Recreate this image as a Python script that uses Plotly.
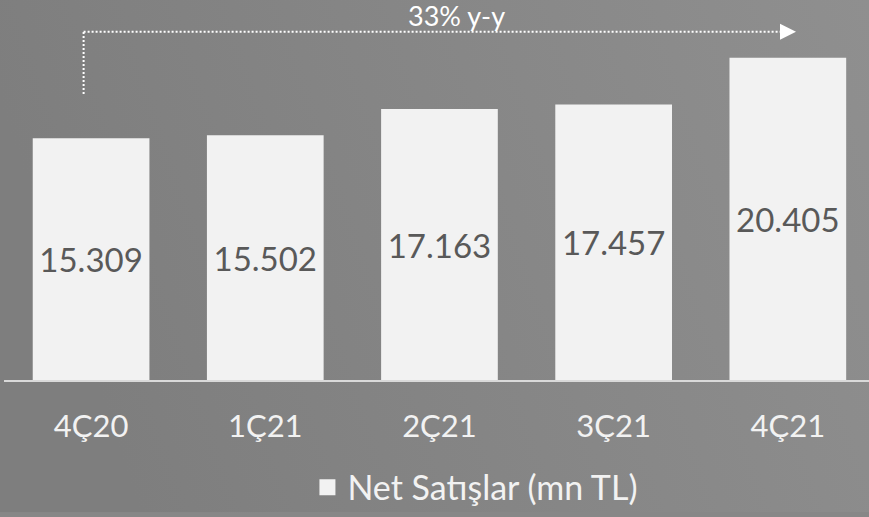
import base64
import plotly.graph_objects as go

categories = ["4Ç20", "1Ç21", "2Ç21", "3Ç21", "4Ç21"]
net_sales = [15309, 15502, 17163, 17457, 20405]
value_labels = ["15.309", "15.502", "17.163", "17.457", "20.405"]
series_name = "Net Satışlar (mn TL)"
growth_label = "33% y-y"

FONT = "Lato"
BAR = "#f2f2f2"

# soft grey background gradient (dark left -> lighter right)
svg = (
    '<svg xmlns="http://www.w3.org/2000/svg" width="869" height="517" preserveAspectRatio="none">'
    '<defs><linearGradient id="g" x1="0" y1="0.2" x2="1" y2="0">'
    '<stop offset="0" stop-color="#7e7e7e"/><stop offset="1" stop-color="#8f8f8f"/>'
    '</linearGradient></defs><rect width="869" height="517" fill="url(#g)"/></svg>'
)
bg_src = "data:image/svg+xml;base64," + base64.b64encode(svg.encode()).decode()

x_idx = list(range(len(categories)))

fig = go.Figure()
fig.add_trace(go.Bar(
    x=x_idx,
    y=net_sales,
    name=series_name,
    legendgroup="ns",
    text=value_labels,
    textposition="inside",
    insidetextanchor="middle",
    textfont=dict(family=FONT, size=33, color="#595959"),
    marker=dict(color=BAR, line=dict(width=0)),
    width=0.67,
    showlegend=False,
))
# legend entry (larger square symbol) tied to the bar series
fig.add_trace(go.Scatter(
    x=[None], y=[None], mode="markers", name=series_name, legendgroup="ns",
    marker=dict(symbol="square", size=16, color=BAR), showlegend=True,
))

ymax = 24070
y_line = 22066
y_bottom = 18110
x_start = -0.043
x_end = len(categories) - 1 + 0.045
x_head = x_end - 0.09

line_style = dict(color="white", width=2, dash="2px,2px")
fig.add_shape(type="line", xref="x", yref="y", x0=x_start, x1=x_start, y0=y_bottom, y1=y_line, line=line_style)
fig.add_shape(type="line", xref="x", yref="y", x0=x_start, x1=x_head, y0=y_line, y1=y_line, line=line_style)
fig.add_shape(type="path", xref="x", yref="y", xsizemode="pixel", ysizemode="pixel",
              xanchor=x_head, yanchor=y_line,
              path="M0,-8 L16,0 L0,8 Z", fillcolor="white", line=dict(width=0))
fig.add_annotation(x=2.1, y=y_line, xref="x", yref="y", text=growth_label, showarrow=False,
                   yanchor="bottom", yshift=-2, font=dict(family=FONT, size=27, color="white"))

fig.add_layout_image(dict(source=bg_src, xref="paper", yref="paper", x=-4/865, y=1,
                          sizex=869/865, sizey=517/383.5,
                          xanchor="left", yanchor="top", sizing="stretch", layer="below"))

fig.update_layout(
    width=869, height=517,
    margin=dict(l=4, r=0, t=0, b=133.5),
    paper_bgcolor="#878787", plot_bgcolor="rgba(0,0,0,0)",
    xaxis=dict(range=[-0.5, 4.466], tickvals=x_idx, ticktext=categories,
               showgrid=False, zeroline=False, showline=True, linecolor="#d9d9d9", linewidth=2,
               ticks="", ticklabelstandoff=18,
               tickfont=dict(family=FONT, size=31, color="#f2f2f2")),
    yaxis=dict(range=[0, ymax], visible=False, showgrid=False, zeroline=False),
    legend=dict(orientation="h", x=0.545, xanchor="center", y=-0.283, yanchor="middle",
                font=dict(family=FONT, size=34, color="#f2f2f2"), bgcolor="rgba(0,0,0,0)",
                itemwidth=30),
    showlegend=True,
)

fig.write_html("out.html", config={"displayModeBar": False},
               post_script="document.body.style.margin='0';")
